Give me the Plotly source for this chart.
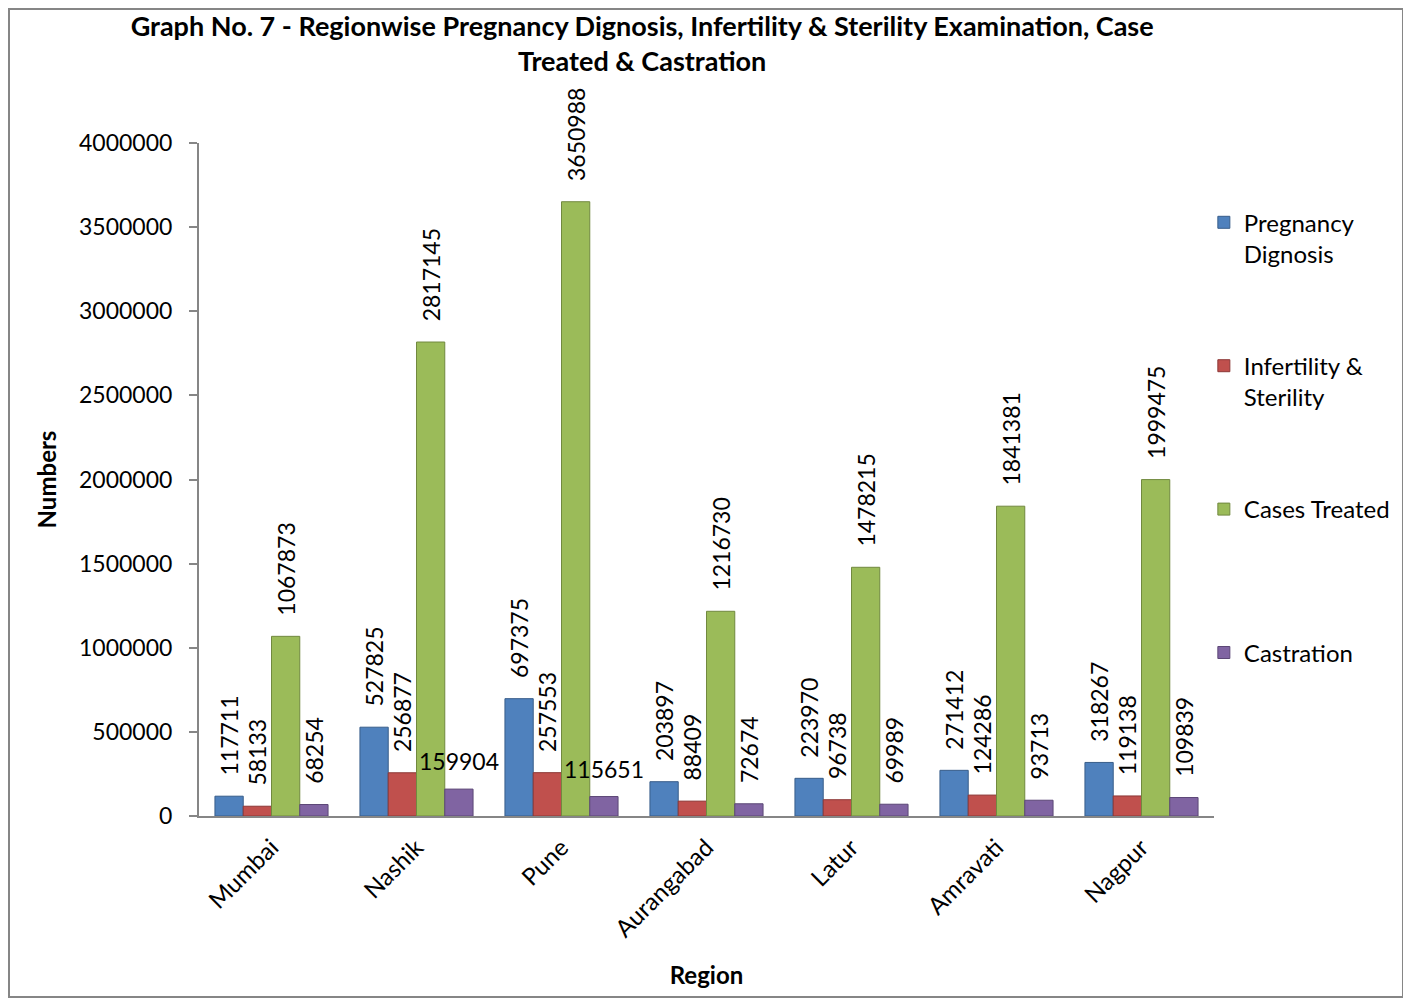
"""Regionwise pregnancy diagnosis, infertility, cases treated and castration."""

import plotly.graph_objects as go

regions = ["Mumbai", "Nashik", "Pune", "Aurangabad", "Latur", "Amravati", "Nagpur"]

pregnancy = [117711, 527825, 697375, 203897, 223970, 271412, 318267]
infertility = [58133, 256877, 257553, 88409, 96738, 124286, 119138]
cases_treated = [1067873, 2817145, 3650988, 1216730, 1478215, 1841381, 1999475]
castration = [68254, 159904, 115651, 72674, 69989, 93713, 109839]

# labels Excel drew horizontally instead of rotated
flat_labels = {"Nashik", "Pune"}

# legend names padded to two lines so the entries are evenly spaced
series = [
    ("Pregnancy<br>Dignosis", pregnancy, "#4F81BD", "#385D8A"),
    ("Infertility &<br>Sterility", infertility, "#C0504D", "#8C3836"),
    ("Cases Treated<br>\u00a0", cases_treated, "#9BBB59", "#71893F"),
    ("Castration", castration, "#8064A2", "#5C4776"),
]

FONT = "Lato, 'Open Sans', sans-serif"
AXIS = "#868686"
LABEL_SIZE = 23

fig = go.Figure()

for i, (name, values, color, edge) in enumerate(series):
    labels = []
    for region, v in zip(regions, values):
        if name == "Castration" and region in flat_labels:
            labels.append("")
        else:
            labels.append("\u00a0\u00a0\u00a0" + str(v))
    fig.add_trace(
        go.Bar(
            x=regions,
            y=values,
            name=name,
            legendgroup=str(i),
            marker=dict(color=color, line=dict(color=edge, width=1)),
            text=labels,
            textposition="outside",
            textangle=-90,
            constraintext="none",
            cliponaxis=False,
            textfont=dict(family=FONT, size=LABEL_SIZE, color="#000000"),
        )
    )

# the two horizontal castration labels
bar_w = 145 * (1 - 0.22) / 4
for region, v in zip(regions, castration):
    if region in flat_labels:
        fig.add_annotation(
            x=region,
            y=v,
            xshift=1.5 * bar_w,
            yshift=12,
            yanchor="bottom",
            text=str(v),
            showarrow=False,
            font=dict(family=FONT, size=LABEL_SIZE, color="#000000"),
        )

fig.update_layout(
    width=1403,
    height=992,
    barmode="group",
    bargap=0.22,
    bargroupgap=0,
    plot_bgcolor="white",
    paper_bgcolor="white",
    margin=dict(l=191, r=197, t=135, b=184),
    font=dict(family=FONT, size=23, color="#000000"),
    title=dict(
        text="<b>Graph No. 7 - Regionwise Pregnancy Dignosis, Infertility & Sterility "
        "Examination, Case<br>Treated & Castration</b>",
        x=0.452,
        xanchor="center",
        y=0.972,
        yanchor="top",
        font=dict(family=FONT, size=27),
    ),
    xaxis=dict(
        title=dict(text="<b>Region</b>", font=dict(size=24), standoff=26),
        tickangle=-45,
        showline=True,
        linecolor=AXIS,
        linewidth=2,
        ticks="",
        ticklabelstandoff=6,
        tickfont=dict(size=24),
    ),
    yaxis=dict(
        title=dict(text="<b>Numbers</b>", font=dict(size=24), standoff=16),
        range=[0, 4000000],
        dtick=500000,
        tickformat="d",
        showline=True,
        linecolor=AXIS,
        linewidth=2,
        ticks="outside",
        ticklen=8,
        tickcolor=AXIS,
        tickwidth=2,
        ticklabelstandoff=12,
        showgrid=False,
        zeroline=False,
        tickfont=dict(size=23),
    ),
    legend=dict(
        x=0.990,
        y=0.915,
        xanchor="left",
        yanchor="top",
        valign="top",
        tracegroupgap=78,
        bgcolor="rgba(0,0,0,0)",
        font=dict(family=FONT, size=24),
        itemwidth=30,
    ),
    shapes=[
        dict(
            type="rect",
            xref="paper",
            yref="paper",
            x0=-0.1872,
            x1=1.1862,
            y0=-0.2689,
            y1=1.1991,
            line=dict(color="#868686", width=2),
            layer="below",
        )
    ],
)

fig.write_html("out.html")
